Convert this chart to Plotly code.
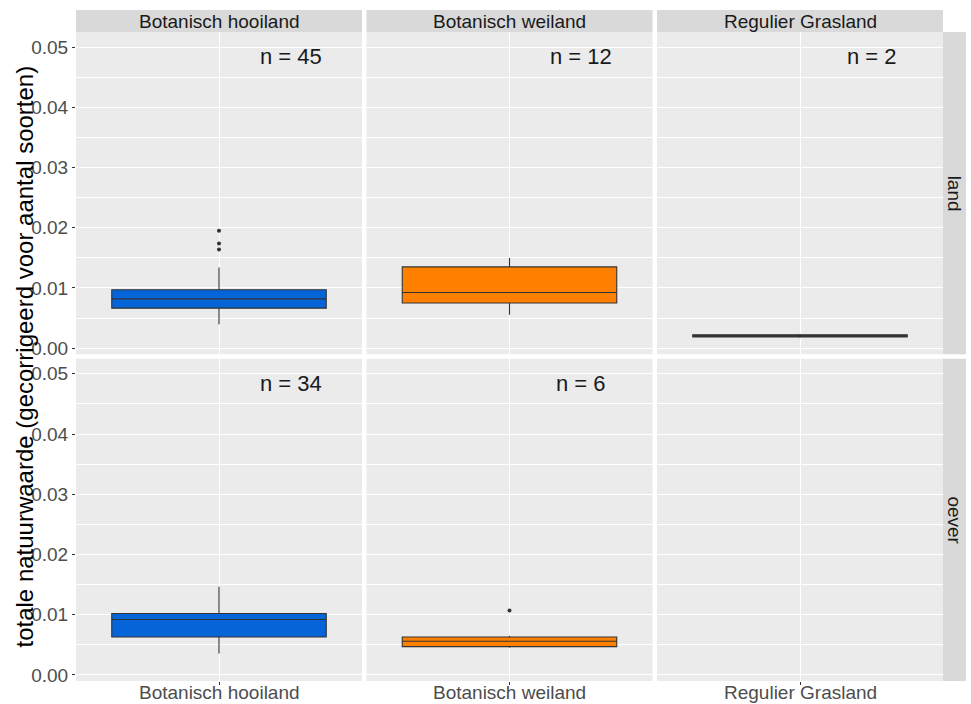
import plotly.graph_objects as go

# Facet layout: columns = grassland type, rows = location
categories = ["Botanisch hooiland", "Botanisch weiland", "Regulier Grasland"]
rows = ["land", "oever"]
fill_colors = ["#0565D8", "#FF8000", "#556B2F"]

# Box statistics per row, per category (None = no observations)
q1 = {
    "land":  [0.00665, 0.00750, 0.00188],
    "oever": [0.00630, 0.00470, None],
}
median = {
    "land":  [0.00820, 0.00925, 0.00205],
    "oever": [0.00920, 0.00560, None],
}
q3 = {
    "land":  [0.00970, 0.01350, 0.00222],
    "oever": [0.01020, 0.00630, None],
}
lower = {
    "land":  [0.00400, 0.00555, 0.00175],
    "oever": [0.00356, 0.00450, None],
}
upper = {
    "land":  [0.01340, 0.01497, 0.00235],
    "oever": [0.01465, 0.00650, None],
}
outliers = {
    "land":  [[0.0164, 0.0174, 0.0195], [], []],
    "oever": [[], [0.0107], []],
}
counts = {
    "land":  [45, 12, 2],
    "oever": [34, 6, None],
}

y_title = "totale natuurwaarde (gecorrigeerd voor aantal soorten)"
y_ticks = [0.00, 0.01, 0.02, 0.03, 0.04, 0.05]

FONT = "Liberation Sans, Arial, sans-serif"
PANEL_BG = "#EBEBEB"
STRIP_BG = "#D9D9D9"

W, H = 971, 704
ML, MR, MT, MB = 76, 28, 32, 23
PW = W - ML - MR
PH = H - MT - MB

# Panel positions (pixels inside the plot area)
gap_x = 4.5
col_w = (PW - 2 * gap_x) / 3
x_domains = []
for c in range(3):
    a = c * (col_w + gap_x)
    x_domains.append([a / PW, (a + col_w) / PW])
gap_y = 4.5
row_h = (PH - gap_y) / 2
y_domains = [[1 - row_h / PH, 1.0], [0.0, row_h / PH]]

y_range = [-0.001, 0.0525]
x_range = [0.4, 1.6]

fig = go.Figure()
layout = {}
annotations = []
shapes = []

for r, row in enumerate(rows):
    for c, cat in enumerate(categories):
        idx = r * 3 + c + 1
        xa = "x" if idx == 1 else f"x{idx}"
        ya = "y" if idx == 1 else f"y{idx}"
        xkey = "xaxis" if idx == 1 else f"xaxis{idx}"
        ykey = "yaxis" if idx == 1 else f"yaxis{idx}"

        if q1[row][c] is not None:
            fig.add_trace(go.Box(
                x=[1], q1=[q1[row][c]], median=[median[row][c]], q3=[q3[row][c]],
                lowerfence=[lower[row][c]], upperfence=[upper[row][c]],
                orientation="v", width=0.9, boxpoints=False,
                fillcolor=fill_colors[c],
                line=dict(color="#333333", width=1.1),
                whiskerwidth=0,
                xaxis=xa, yaxis=ya, showlegend=False, hoverinfo="skip",
            ))
        else:
            # empty panel: keep the axes so grid and labels are drawn
            fig.add_trace(go.Scatter(
                x=[None], y=[None], mode="markers", xaxis=xa, yaxis=ya,
                showlegend=False, hoverinfo="skip",
            ))
        if outliers[row][c]:
            fig.add_trace(go.Scatter(
                x=[1] * len(outliers[row][c]), y=outliers[row][c], mode="markers",
                marker=dict(color="#333333", size=4),
                xaxis=xa, yaxis=ya, showlegend=False, hoverinfo="skip",
            ))
        if counts[row][c] is not None:
            annotations.append(dict(
                x=1.3, y=0.0484, xref=xa, yref=ya, text=f"n = {counts[row][c]}",
                showarrow=False, font=dict(family=FONT, size=22, color="#1A1A1A"),
                xanchor="center", yanchor="middle",
            ))

        bottom = r == 1
        layout[xkey] = dict(
            domain=x_domains[c], anchor=ya, range=x_range, fixedrange=True,
            tickvals=[1], showticklabels=False,
            ticks="outside" if bottom else "", ticklen=3, tickcolor="#333333",
            showgrid=True, gridcolor="white", gridwidth=1.1,
            zeroline=False, showline=False, automargin=False,
        )
        if bottom:
            # category label under the bottom panel
            annotations.append(dict(
                x=1, y=-11 / PH, xref=xa, yref="paper", text=cat,
                showarrow=False, font=dict(family=FONT, size=19, color="#4D4D4D"),
                xanchor="center", yanchor="middle",
            ))
        left = c == 0
        layout[ykey] = dict(
            domain=y_domains[r], anchor=xa, range=y_range, fixedrange=True,
            tickvals=y_ticks, ticktext=[f"{v:.2f}" for v in y_ticks],
            showticklabels=left, ticks="outside" if left else "",
            ticklen=3, tickcolor="#333333",
            tickfont=dict(family=FONT, size=19, color="#4D4D4D"),
            showgrid=True, gridcolor="white", gridwidth=1.1,
            minor=dict(dtick=0.005, tick0=0, showgrid=True, gridcolor="white", gridwidth=0.5),
            zeroline=False, showline=False, automargin=False,
        )
        # panel background
        shapes.append(dict(
            type="rect", xref=f"{xa} domain", yref=f"{ya} domain",
            x0=0, x1=1, y0=0, y1=1, fillcolor=PANEL_BG, line=dict(width=0),
            layer="below",
        ))

# column strips
strip_top = 1 + 22 / PH
for c, cat in enumerate(categories):
    shapes.append(dict(
        type="rect", xref="paper", yref="paper",
        x0=x_domains[c][0], x1=x_domains[c][1], y0=1.0, y1=strip_top,
        fillcolor=STRIP_BG, line=dict(width=0),
    ))
    annotations.append(dict(
        x=(x_domains[c][0] + x_domains[c][1]) / 2, y=(1 + strip_top) / 2,
        xref="paper", yref="paper", text=cat, showarrow=False,
        font=dict(family=FONT, size=19, color="#1A1A1A"),
        xanchor="center", yanchor="middle",
    ))

# row strips
strip_right = 1 + 23 / PW
for r, row in enumerate(rows):
    shapes.append(dict(
        type="rect", xref="paper", yref="paper",
        x0=1.0, x1=strip_right, y0=y_domains[r][0], y1=y_domains[r][1],
        fillcolor=STRIP_BG, line=dict(width=0),
    ))
    annotations.append(dict(
        x=(1 + strip_right) / 2, y=(y_domains[r][0] + y_domains[r][1]) / 2,
        xref="paper", yref="paper", text=row, showarrow=False, textangle=90,
        font=dict(family=FONT, size=19, color="#1A1A1A"),
        xanchor="center", yanchor="middle",
    ))

# y-axis title
annotations.append(dict(
    x=(24 - ML) / PW, y=0.5, xref="paper", yref="paper", text=y_title,
    showarrow=False, textangle=-90, font=dict(family=FONT, size=24, color="#000000"),
    xanchor="center", yanchor="middle",
))

fig.update_layout(
    width=W, height=H,
    margin=dict(l=ML, r=MR, t=MT, b=MB, autoexpand=False),
    paper_bgcolor="white", plot_bgcolor="rgba(0,0,0,0)",
    showlegend=False, annotations=annotations, shapes=shapes,
    **layout,
)

fig.write_html("out.html")
